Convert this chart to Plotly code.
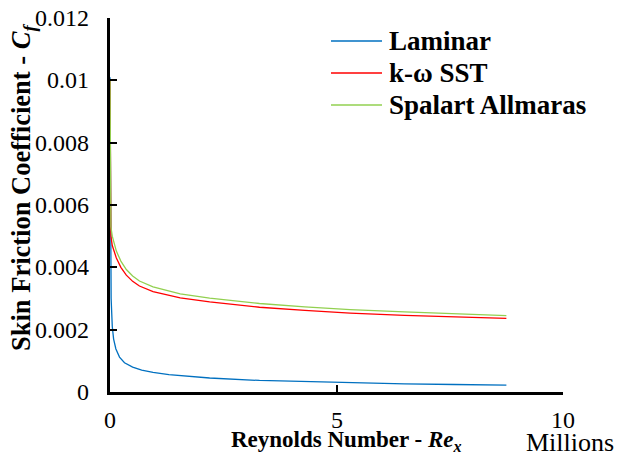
import plotly.graph_objects as go

# Reynolds number (millions) and skin friction coefficient values
re_lam = [0.0, 0.01, 0.025, 0.05, 0.08, 0.13, 0.21, 0.32, 0.5, 0.7, 0.95, 1.3, 1.55, 2.2, 3.3, 4.3, 5.3, 6.5, 7.6, 8.75]
cf_lam = [0.0101, 0.0045, 0.0030, 0.0021, 0.0017, 0.00138, 0.00112, 0.00094, 0.00080, 0.00070,
          0.00063, 0.00056, 0.00053, 0.00045, 0.00037, 0.00033, 0.00029, 0.00026, 0.00024, 0.00022]

re_turb = [0.0, 0.005, 0.02, 0.05, 0.09, 0.14, 0.24, 0.36, 0.5, 0.65, 0.95, 1.3, 1.55, 2.2, 3.3, 4.3, 5.3, 6.5, 7.6, 8.75]
cf_sst = [0.0100, 0.0052, 0.0050, 0.0047, 0.0045, 0.0043, 0.0040, 0.00375, 0.00355, 0.00340,
          0.00322, 0.00309, 0.00302, 0.00289, 0.00272, 0.00262, 0.00253, 0.00246, 0.00241, 0.00236]
cf_sa = [0.0100, 0.0058, 0.0053, 0.0050, 0.00475, 0.00452, 0.00420, 0.00393, 0.00372, 0.00356,
         0.00337, 0.00323, 0.00315, 0.00301, 0.00284, 0.00273, 0.00264, 0.00257, 0.00251, 0.00245]

series_names = ["Laminar", "k-ω SST", "Spalart Allmaras"]
series_colors = ["#0070C0", "#FF0000", "#92D050"]

x_ticks = [0, 5, 10]
x_tick_text = ["0", "5", "10"]
y_ticks = [0, 0.002, 0.004, 0.006, 0.008, 0.01, 0.012]
y_tick_text = ["0", "0.002", "0.004", "0.006", "0.008", "0.01", "0.012"]

FONT = "Liberation Serif"

# plot area geometry in pixels (for paper-coordinate placement of text)
L, R, T, B = 110, 563, 18, 392
PW, PH = R - L, B - T


def px(x):
    return (x - L) / PW


def py(y):
    return (B - y) / PH


fig = go.Figure()
for xs, ys, name, col in zip([re_lam, re_turb, re_turb], [cf_lam, cf_sst, cf_sa], series_names, series_colors):
    fig.add_trace(go.Scatter(x=xs, y=ys, mode="lines", name=name, showlegend=False,
                             line=dict(color=col, width=1.3)))

fig.update_layout(
    width=618, height=458,
    margin=dict(l=L, r=618 - R, t=T, b=458 - B),
    paper_bgcolor="white", plot_bgcolor="white",
    font=dict(family=FONT, size=24, color="black"),
    showlegend=False,
    xaxis=dict(range=[0, 10], tickvals=x_ticks, showticklabels=False,
               showgrid=False, zeroline=False, showline=True, linecolor="black", linewidth=2.5,
               ticks="inside", ticklen=7, tickwidth=2, tickcolor="black"),
    yaxis=dict(range=[0, 0.012], tickvals=y_ticks, showticklabels=False,
               showgrid=False, zeroline=False, showline=True, linecolor="black", linewidth=2.5,
               ticks="inside", ticklen=7, tickwidth=2, tickcolor="black"),
)

# tick labels placed through the axes' own scales
for v, t in zip(x_ticks, x_tick_text):
    fig.add_annotation(text=t, xref="x", yref="paper", x=v, y=py(420), xanchor="center", yanchor="middle",
                       showarrow=False, font=dict(family=FONT, size=24, color="black"))
for v, t in zip(y_ticks, y_tick_text):
    fig.add_annotation(text=t, xref="paper", yref="y", x=px(91), y=v, xanchor="right", yanchor="middle",
                       showarrow=False, font=dict(family=FONT, size=24, color="black"))

# legend (drawn manually to match the reference's sample length and spacing)
legend_rows = [41, 73, 105]
for name, col, yy in zip(series_names, series_colors, legend_rows):
    fig.add_shape(type="line", xref="paper", yref="paper", x0=px(331), x1=px(382), y0=py(yy), y1=py(yy),
                  line=dict(color=col, width=1.3))
    fig.add_annotation(text="<b>" + name + "</b>", xref="paper", yref="paper", x=px(387), y=py(yy),
                       xanchor="left", yanchor="middle", showarrow=False,
                       font=dict(family=FONT, size=27, color="black"))

fig.add_annotation(text="<b>Reynolds Number - <i>Re<sub>x</sub></i></b>", xref="paper", yref="paper",
                   x=px(346), y=py(441), xanchor="center", yanchor="middle",
                   showarrow=False, font=dict(family=FONT, size=23, color="black"))
fig.add_annotation(text="Millions", xref="paper", yref="paper",
                   x=px(570), y=py(443), xanchor="center", yanchor="middle",
                   showarrow=False, font=dict(family=FONT, size=26, color="black"))
fig.add_annotation(text="<b>Skin Friction Coefficient - <i>C<sub>f</sub></i></b>", xref="paper", yref="paper",
                   x=px(23), y=py(188), xanchor="center", yanchor="middle",
                   textangle=-90, showarrow=False, font=dict(family=FONT, size=26.5, color="black"))

fig.write_html("out.html")
